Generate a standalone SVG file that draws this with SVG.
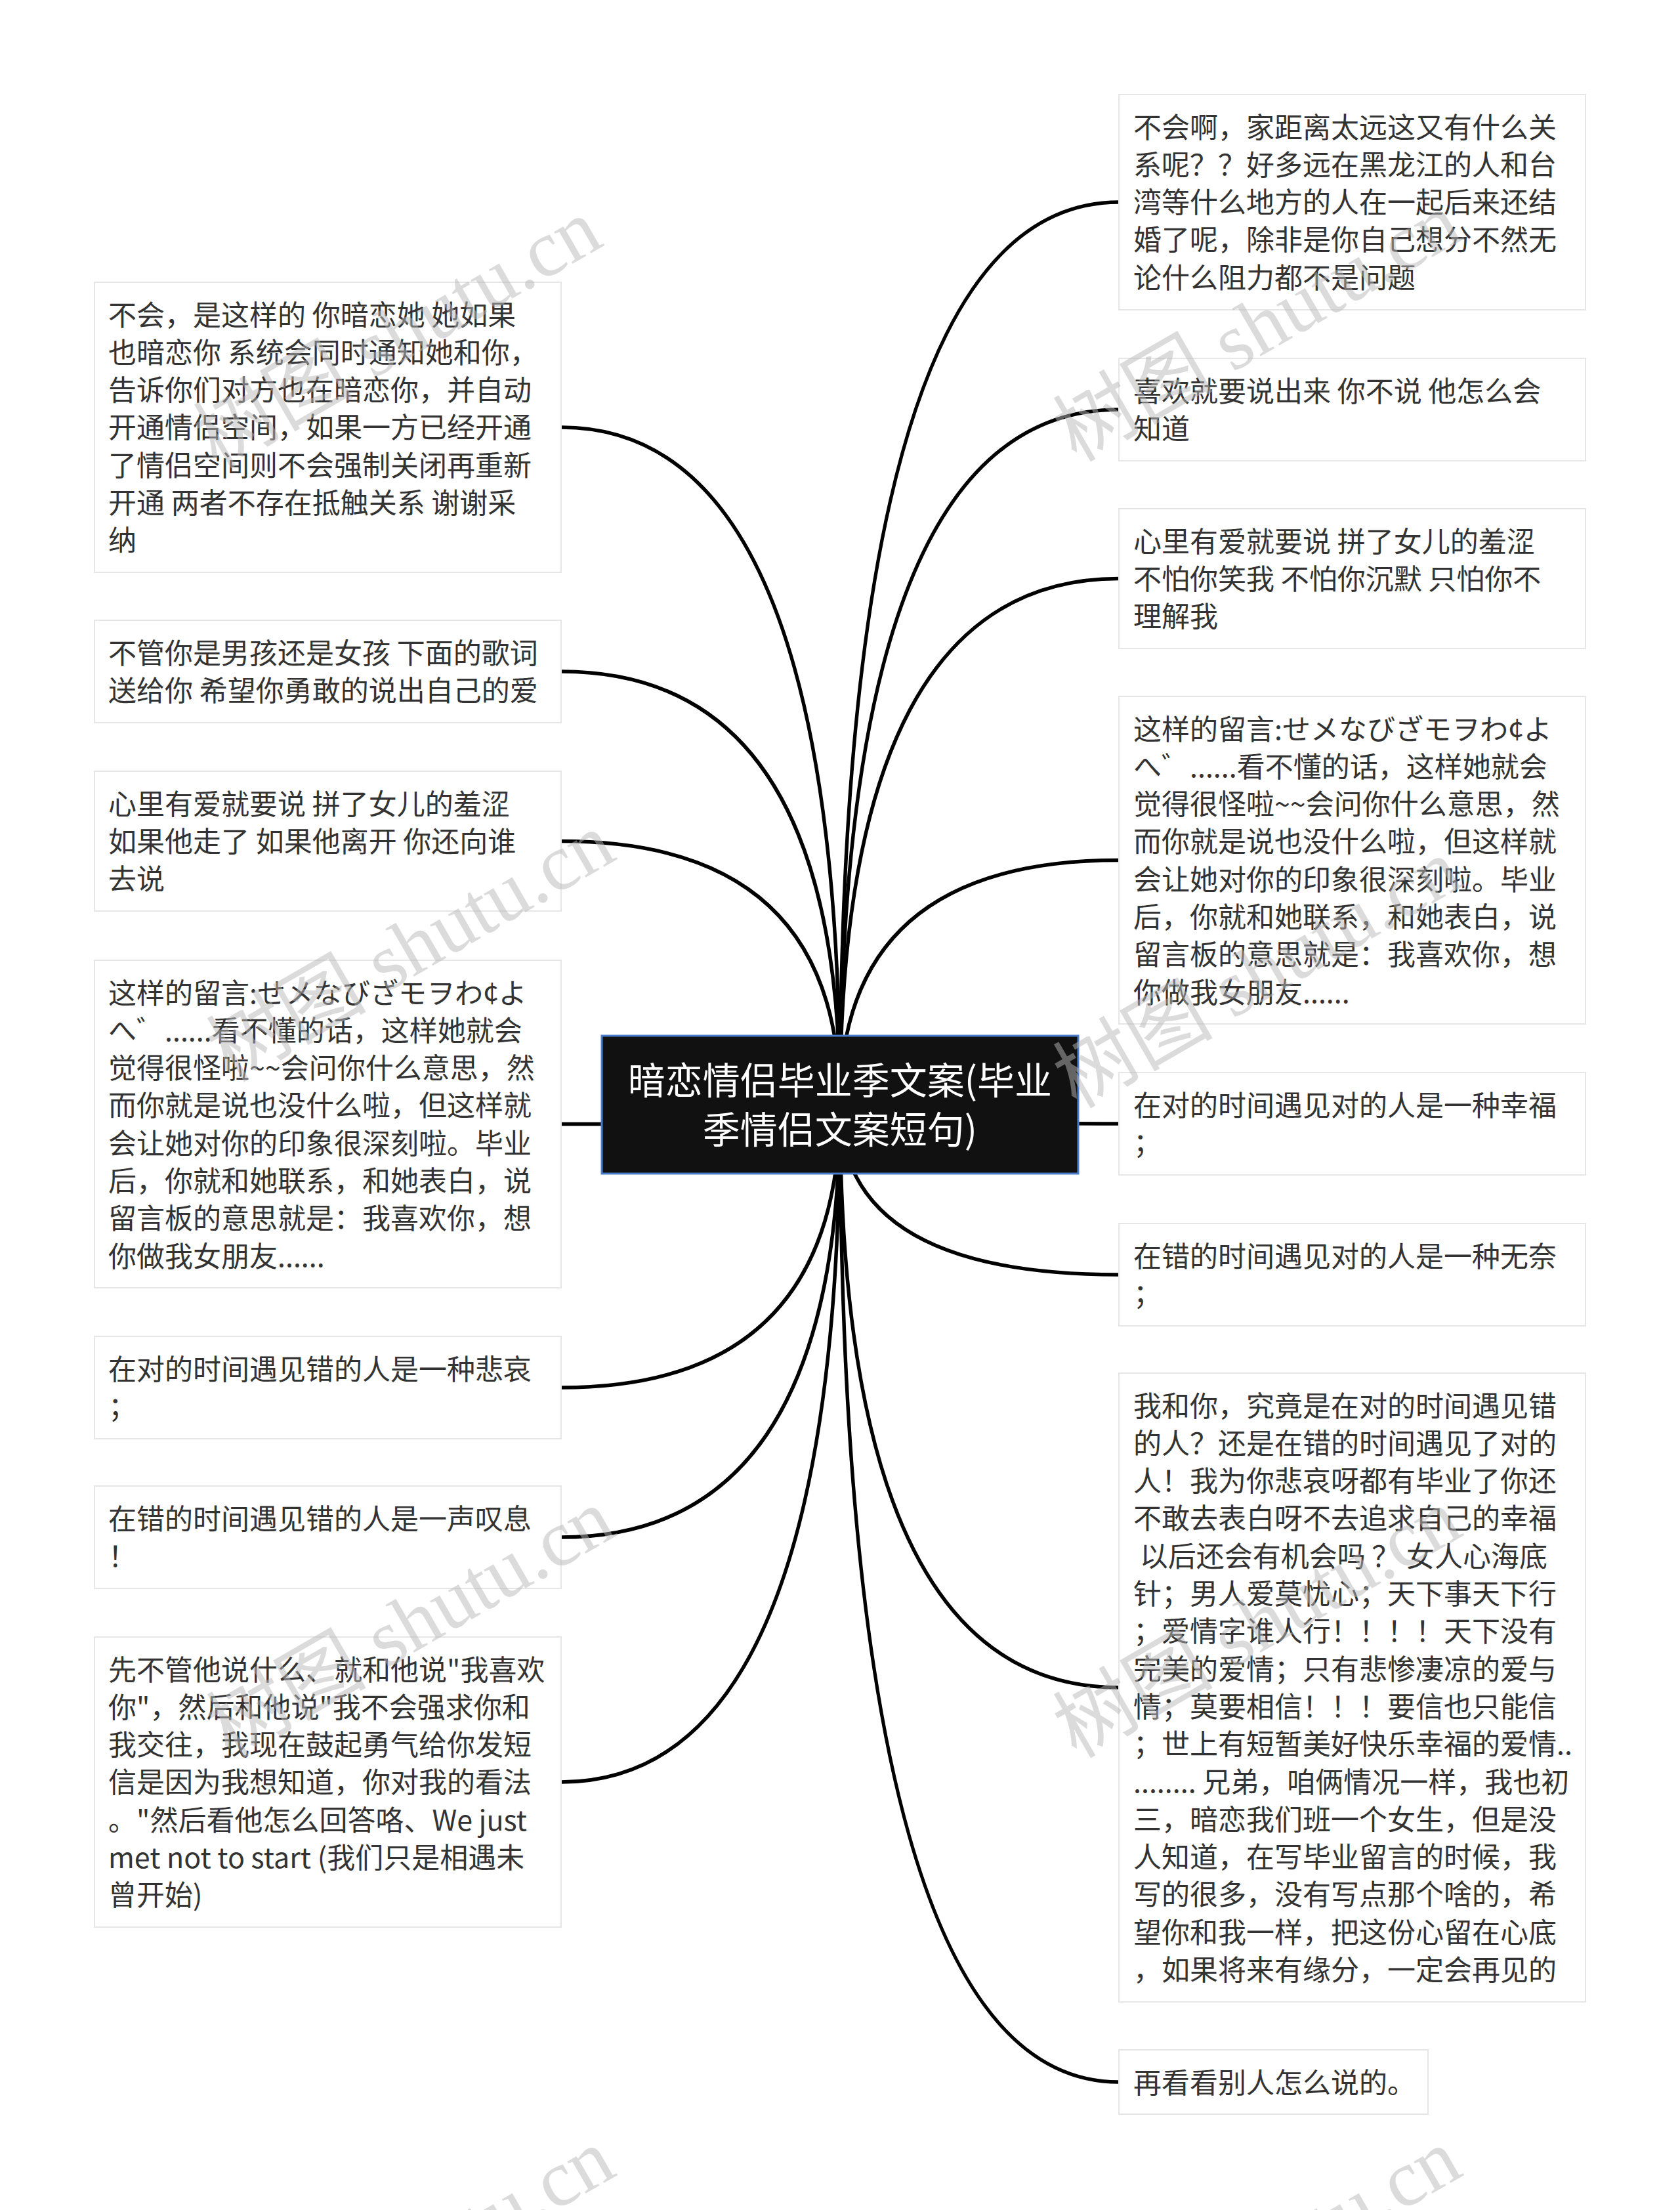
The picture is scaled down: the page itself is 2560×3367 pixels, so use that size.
<svg xmlns="http://www.w3.org/2000/svg" width="2560" height="3367" viewBox="0 0 2560 3367" xml:space="preserve">
<style>
.bg{fill:#ffffff}
.node rect{fill:#ffffff;stroke:#e6e6e6;stroke-width:2}
.node text{font-family:"Noto Sans CJK SC","Noto Sans",sans-serif;font-size:43px;fill:#333333}
.conn path{fill:none;stroke:#000000;stroke-width:5.5}
.root rect{fill:#111111;stroke:#4a7ccc;stroke-width:3}
.root text{font-family:"Noto Sans CJK SC","Noto Sans",sans-serif;font-size:57px;fill:#ffffff;text-anchor:middle}
.wm text{font-family:"Liberation Serif","Noto Sans CJK SC",serif;font-size:122px;fill:#b8b8b8;opacity:0.5}
</style>
<rect class="bg" x="0" y="0" width="2560" height="3367"/>
<g id="connectors" class="conn">
<path d="M1280 1683 Q1280 651 855 651"/>
<path d="M1280 1683 Q1280 1023 855 1023"/>
<path d="M1280 1683 Q1280 1281.5 855 1281.5"/>
<path d="M1280 1683 Q1280 1712.5 855 1712.5"/>
<path d="M1280 1683 Q1280 2114 855 2114"/>
<path d="M1280 1683 Q1280 2342 855 2342"/>
<path d="M1280 1683 Q1280 2715 855 2715"/>
<path d="M1280 1683 Q1280 308 1705 308"/>
<path d="M1280 1683 Q1280 624 1705 624"/>
<path d="M1280 1683 Q1280 881.5 1705 881.5"/>
<path d="M1280 1683 Q1280 1310.5 1705 1310.5"/>
<path d="M1280 1683 Q1280 1712 1705 1712"/>
<path d="M1280 1683 Q1280 1942 1705 1942"/>
<path d="M1280 1683 Q1280 2571 1705 2571"/>
<path d="M1280 1683 Q1280 3172 1705 3172"/>
</g>
<g id="root" class="root">
<rect x="917" y="1578" width="726" height="210"/>
<text x="1280" y="1667">暗恋情侣毕业季文案(毕业</text>
<text x="1280" y="1742">季情侣文案短句)</text>
</g>
<g id="L1" class="node">
<rect x="144" y="430" width="711" height="442"/>
<text><tspan x="165" y="495.5">不会，是这样的 你暗恋她 她如果</tspan><tspan x="165" y="552.8">也暗恋你 系统会同时通知她和你，</tspan><tspan x="165" y="610.1">告诉你们对方也在暗恋你，并自动</tspan><tspan x="165" y="667.4">开通情侣空间，如果一方已经开通</tspan><tspan x="165" y="724.7">了情侣空间则不会强制关闭再重新</tspan><tspan x="165" y="782">开通 两者不存在抵触关系 谢谢采</tspan><tspan x="165" y="839.3">纳</tspan></text>
</g>
<g id="L2" class="node">
<rect x="144" y="945" width="711" height="156"/>
<text><tspan x="165" y="1010.5">不管你是男孩还是女孩 下面的歌词</tspan><tspan x="165" y="1067.8">送给你 希望你勇敢的说出自己的爱</tspan></text>
</g>
<g id="L3" class="node">
<rect x="144" y="1175" width="711" height="213"/>
<text><tspan x="165" y="1240.5">心里有爱就要说 拼了女儿的羞涩</tspan><tspan x="165" y="1297.8">如果他走了 如果他离开 你还向谁</tspan><tspan x="165" y="1355.1">去说</tspan></text>
</g>
<g id="L4" class="node">
<rect x="144" y="1463" width="711" height="499"/>
<text><tspan x="165" y="1528.5">这样的留言:せメなびざモヲわ¢よ</tspan><tspan x="165" y="1585.8">へ゛......看不懂的话，这样她就会</tspan><tspan x="165" y="1643.1">觉得很怪啦~~会问你什么意思，然</tspan><tspan x="165" y="1700.4">而你就是说也没什么啦，但这样就</tspan><tspan x="165" y="1757.7">会让她对你的印象很深刻啦。毕业</tspan><tspan x="165" y="1815">后，你就和她联系，和她表白，说</tspan><tspan x="165" y="1872.3">留言板的意思就是：我喜欢你，想</tspan><tspan x="165" y="1929.6">你做我女朋友......</tspan></text>
</g>
<g id="L5" class="node">
<rect x="144" y="2036" width="711" height="156"/>
<text><tspan x="165" y="2101.5">在对的时间遇见错的人是一种悲哀</tspan><tspan x="165" y="2158.8">；</tspan></text>
</g>
<g id="L6" class="node">
<rect x="144" y="2264" width="711" height="156"/>
<text><tspan x="165" y="2329.5">在错的时间遇见错的人是一声叹息</tspan><tspan x="165" y="2386.8">！</tspan></text>
</g>
<g id="L7" class="node">
<rect x="144" y="2494" width="711" height="442"/>
<text><tspan x="165" y="2559.5">先不管他说什么、就和他说"我喜欢</tspan><tspan x="165" y="2616.8">你"，然后和他说"我不会强求你和</tspan><tspan x="165" y="2674.1">我交往，我现在鼓起勇气给你发短</tspan><tspan x="165" y="2731.4">信是因为我想知道，你对我的看法</tspan><tspan x="165" y="2788.7">。"然后看他怎么回答咯、We just</tspan><tspan x="165" y="2846">met not to start (我们只是相遇未</tspan><tspan x="165" y="2903.3">曾开始)</tspan></text>
</g>
<g id="R1" class="node">
<rect x="1705" y="144" width="711" height="328"/>
<text><tspan x="1727" y="209.5">不会啊，家距离太远这又有什么关</tspan><tspan x="1727" y="266.8">系呢？？好多远在黑龙江的人和台</tspan><tspan x="1727" y="324.1">湾等什么地方的人在一起后来还结</tspan><tspan x="1727" y="381.4">婚了呢，除非是你自己想分不然无</tspan><tspan x="1727" y="438.7">论什么阻力都不是问题</tspan></text>
</g>
<g id="R2" class="node">
<rect x="1705" y="546" width="711" height="156"/>
<text><tspan x="1727" y="611.5">喜欢就要说出来 你不说 他怎么会</tspan><tspan x="1727" y="668.8">知道</tspan></text>
</g>
<g id="R3" class="node">
<rect x="1705" y="775" width="711" height="213"/>
<text><tspan x="1727" y="840.5">心里有爱就要说 拼了女儿的羞涩</tspan><tspan x="1727" y="897.8">不怕你笑我 不怕你沉默 只怕你不</tspan><tspan x="1727" y="955.1">理解我</tspan></text>
</g>
<g id="R4" class="node">
<rect x="1705" y="1061" width="711" height="499"/>
<text><tspan x="1727" y="1126.5">这样的留言:せメなびざモヲわ¢よ</tspan><tspan x="1727" y="1183.8">へ゛......看不懂的话，这样她就会</tspan><tspan x="1727" y="1241.1">觉得很怪啦~~会问你什么意思，然</tspan><tspan x="1727" y="1298.4">而你就是说也没什么啦，但这样就</tspan><tspan x="1727" y="1355.7">会让她对你的印象很深刻啦。毕业</tspan><tspan x="1727" y="1413">后，你就和她联系，和她表白，说</tspan><tspan x="1727" y="1470.3">留言板的意思就是：我喜欢你，想</tspan><tspan x="1727" y="1527.6">你做我女朋友......</tspan></text>
</g>
<g id="R5" class="node">
<rect x="1705" y="1634" width="711" height="156"/>
<text><tspan x="1727" y="1699.5">在对的时间遇见对的人是一种幸福</tspan><tspan x="1727" y="1756.8">；</tspan></text>
</g>
<g id="R6" class="node">
<rect x="1705" y="1864" width="711" height="156"/>
<text><tspan x="1727" y="1929.5">在错的时间遇见对的人是一种无奈</tspan><tspan x="1727" y="1986.8">；</tspan></text>
</g>
<g id="R7" class="node">
<rect x="1705" y="2092" width="711" height="958"/>
<text><tspan x="1727" y="2157.5">我和你，究竟是在对的时间遇见错</tspan><tspan x="1727" y="2214.8">的人？还是在错的时间遇见了对的</tspan><tspan x="1727" y="2272.1">人！我为你悲哀呀都有毕业了你还</tspan><tspan x="1727" y="2329.4">不敢去表白呀不去追求自己的幸福</tspan><tspan x="1727" y="2386.7"> 以后还会有机会吗 ？ 女人心海底</tspan><tspan x="1727" y="2444">针；男人爱莫忧心；天下事天下行</tspan><tspan x="1727" y="2501.3">；爱情字谁人行！！！！天下没有</tspan><tspan x="1727" y="2558.6">完美的爱情；只有悲惨凄凉的爱与</tspan><tspan x="1727" y="2615.9">情；莫要相信！！！要信也只能信</tspan><tspan x="1727" y="2673.2">；世上有短暂美好快乐幸福的爱情..</tspan><tspan x="1727" y="2730.5">........ 兄弟，咱俩情况一样，我也初</tspan><tspan x="1727" y="2787.8">三，暗恋我们班一个女生，但是没</tspan><tspan x="1727" y="2845.1">人知道，在写毕业留言的时候，我</tspan><tspan x="1727" y="2902.4">写的很多，没有写点那个啥的，希</tspan><tspan x="1727" y="2959.7">望你和我一样，把这份心留在心底</tspan><tspan x="1727" y="3017">，如果将来有缘分，一定会再见的</tspan></text>
</g>
<g id="R8" class="node">
<rect x="1705" y="3123" width="471" height="98"/>
<text><tspan x="1727" y="3188.5">再看看别人怎么说的。</tspan></text>
</g>
<g id="watermarks" class="wm">
<text transform="translate(330 715) rotate(-30)">树图 shutu.cn</text>
<text transform="translate(1640 705) rotate(-30)">树图 shutu.cn</text>
<text transform="translate(350 1650) rotate(-30)">树图 shutu.cn</text>
<text transform="translate(1640 1690) rotate(-30)">树图 shutu.cn</text>
<text transform="translate(350 2680) rotate(-30)">树图 shutu.cn</text>
<text transform="translate(1640 2680) rotate(-30)">树图 shutu.cn</text>
<text transform="translate(350 3655) rotate(-30)">树图 shutu.cn</text>
<text transform="translate(1640 3655) rotate(-30)">树图 shutu.cn</text>
</g>
</svg>
